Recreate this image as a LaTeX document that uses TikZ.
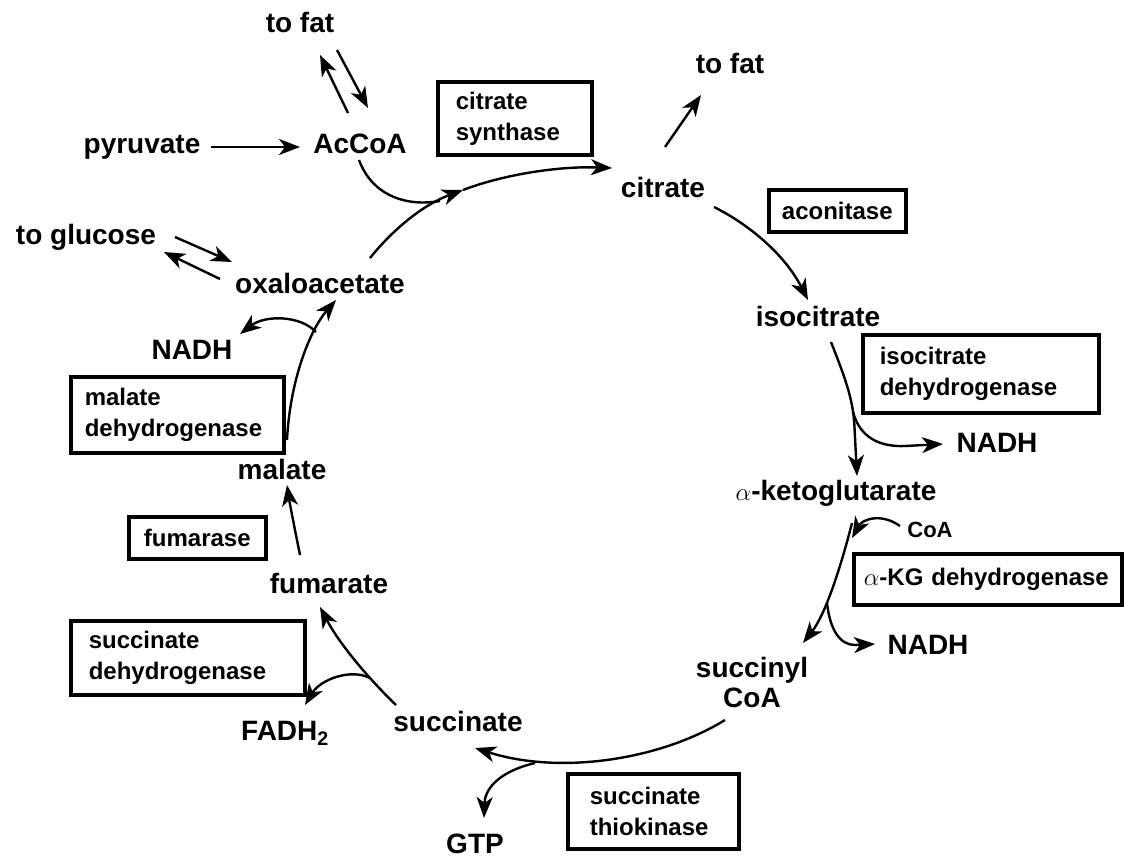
\documentclass[tikz,border=0pt]{standalone}
\usepackage{fontspec}
\setmainfont{Liberation Sans}
\usetikzlibrary{arrows.meta}
\begin{document}
\begin{tikzpicture}[x=1pt,y=-1pt,
  lab/.style={inner sep=0pt, font=\fontsize{28}{30}\selectfont\bfseries},
  small/.style={inner sep=0pt, font=\fontsize{22}{24}\selectfont\bfseries},
  enz/.style={draw, line width=3.6pt, anchor=north west, inner ysep=0pt, font=\fontsize{24}{31}\selectfont\bfseries},
  arr/.style={line width=2.4pt, -{Stealth[length=21pt,width=16pt,inset=6pt]}},
  ln/.style={line width=2.4pt}]
\useasboundingbox (0,0) rectangle (1124,860);

% ---------- metabolites ----------
\node[lab] (tofatA) at (300,22) {to fat};
\node[lab] (pyr) at (142,147) {pyruvate};
\node[lab] (acoa) at (360,144) {AcCoA};
\node[lab] (tofatB) at (730,63) {to fat};
\node[lab] (cit) at (663,187) {citrate};
\node[lab] (iso) at (818,316) {isocitrate};
\node[lab] (nadhA) at (997,443) {NADH};
\node[lab] (akg) at (836,493) {$\alpha$-ketoglutarate};
\node[small] (coa) at (930,530) {CoA};
\node[lab] (nadhB) at (928,645) {NADH};
\node[lab, align=center, font=\fontsize{28}{30}\selectfont\bfseries] (scoa) at (752,682) {succinyl\\CoA};
\node[lab] (succ) at (458,721) {succinate};
\node[lab] (gtp) at (475,844) {GTP};
\node[lab] (fadh) at (285,733) {FADH\textsubscript{2}};
\node[lab] (fum) at (329,583) {fumarate};
\node[lab] (mal) at (282,469) {malate};
\node[lab] (nadhC) at (192,350) {NADH};
\node[lab] (oaa) at (320,283) {oxaloacetate};
\node[lab] (toglc) at (86,237) {to glucose};

% ---------- enzymes ----------
\node[enz, inner xsep=18pt, text width=118pt, minimum height=73pt, align=left] (cs) at (436,80) {citrate\\synthase};
\node[enz, inner xsep=12pt, text width=113pt, minimum height=42pt, align=center] (acon) at (767,188) {aconitase};
\node[enz, inner xsep=17pt, text width=202pt, minimum height=78pt, align=left] (idh) at (861,333) {isocitrate\\dehydrogenase};
\node[enz, inner xsep=10pt, text width=248pt, minimum height=51pt, align=left] (akgdh) at (852,552) {$\alpha$-KG dehydrogenase};
\node[enz, inner xsep=22pt, text width=127pt, minimum height=75pt, align=left] (stk) at (566,772) {succinate\\thiokinase};
\node[enz, inner xsep=18pt, text width=198pt, minimum height=74pt, align=left] (sdh) at (69,619) {succinate\\dehydrogenase};
\node[enz, inner xsep=10pt, text width=117pt, minimum height=42pt, align=center] (fuma) at (127,515) {fumarase};
\node[enz, inner xsep=14pt, text width=185pt, minimum height=76pt, align=left] (mdh) at (69,375) {malate\\dehydrogenase};

% ---------- connector points ----------
\coordinate (tfUa) at (348,113); \coordinate (tfUb) at (320,55);
\coordinate (tfDa) at (337,50);  \coordinate (tfDb) at (368,108);
\coordinate (pyrE) at (211,147); \coordinate (acW) at (300,147);
\coordinate (oaaNE) at (370,258); \coordinate (midA) at (463,190); \coordinate (citW) at (612,168);
\coordinate (acS) at (359,160); \coordinate (joinA) at (440,201);
\coordinate (citN) at (665,147); \coordinate (tfB) at (701,95);
\coordinate (citE) at (714,207); \coordinate (isoN) at (808,300);
\coordinate (isoS) at (831,342); \coordinate (isoM) at (854,418); \coordinate (akgN) at (857,476);
\coordinate (brA) at (853,412); \coordinate (nadhAW) at (943,444);
\coordinate (akgS) at (852,523); \coordinate (scoaN) at (803,643);
\coordinate (coaW) at (900,526); \coordinate (coaT) at (852,538);
\coordinate (brB) at (827,603); \coordinate (nadhBW) at (875,644);
\coordinate (scoaS) at (725,720); \coordinate (succE) at (475,748);
\coordinate (brC) at (535,763); \coordinate (gtpN) at (484,818);
\coordinate (succN) at (396,705); \coordinate (fumS) at (320,607);
\coordinate (brD) at (370,678); \coordinate (fadhN) at (305,705);
\coordinate (fumN) at (300,555); \coordinate (malS) at (287,485);
\coordinate (malN) at (287,440); \coordinate (oaaS) at (336,300);
\coordinate (brE) at (316,332); \coordinate (nadhCE) at (240,334);
\coordinate (glR1) at (175,237); \coordinate (glR2) at (232,262);
\coordinate (glL1) at (220,279); \coordinate (glL2) at (164,252);

% ---------- connectors ----------
\draw[arr] (tfUa) -- (tfUb);
\draw[arr] (tfDa) -- (tfDb);
\draw[arr] (pyrE) -- (acW);
\draw[arr] (oaaNE) .. controls (395,227) and (425,204) .. (midA);
\draw[arr] (midA) .. controls (505,174) and (560,166) .. (citW);
\draw[ln] (acS) .. controls (372,195) and (405,207) .. (joinA);
\draw[arr] (citN) -- (tfB);
\draw[arr] (citE) .. controls (750,225) and (785,255) .. (isoN);
\draw[ln] (isoS) .. controls (842,370) and (852,395) .. (854,420);
\draw[arr] (isoM) -- (akgN);
\draw[arr] (brA) .. controls (860,438) and (880,447) .. (905,446) -- (nadhAW);
\draw[arr] (akgS) .. controls (840,570) and (825,615) .. (scoaN);
\draw[arr] (coaW) .. controls (880,512) and (862,520) .. (coaT);
\draw[arr] (brB) .. controls (830,630) and (840,645) .. (855,645) -- (nadhBW);
\draw[arr] (scoaS) .. controls (660,760) and (560,775) .. (succE);
\draw[arr] (brC) .. controls (505,770) and (485,785) .. (gtpN);
\draw[arr] (succN) .. controls (370,680) and (340,645) .. (fumS);
\draw[arr] (brD) .. controls (350,668) and (320,680) .. (fadhN);
\draw[arr] (fumN) .. controls (295,530) and (290,505) .. (malS);
\draw[arr] (malN) .. controls (290,380) and (310,330) .. (oaaS);
\draw[arr] (brE) .. controls (300,315) and (265,315) .. (nadhCE);
\draw[arr] (glR1) -- (glR2);
\draw[arr] (glL1) -- (glL2);
\end{tikzpicture}
\end{document}
